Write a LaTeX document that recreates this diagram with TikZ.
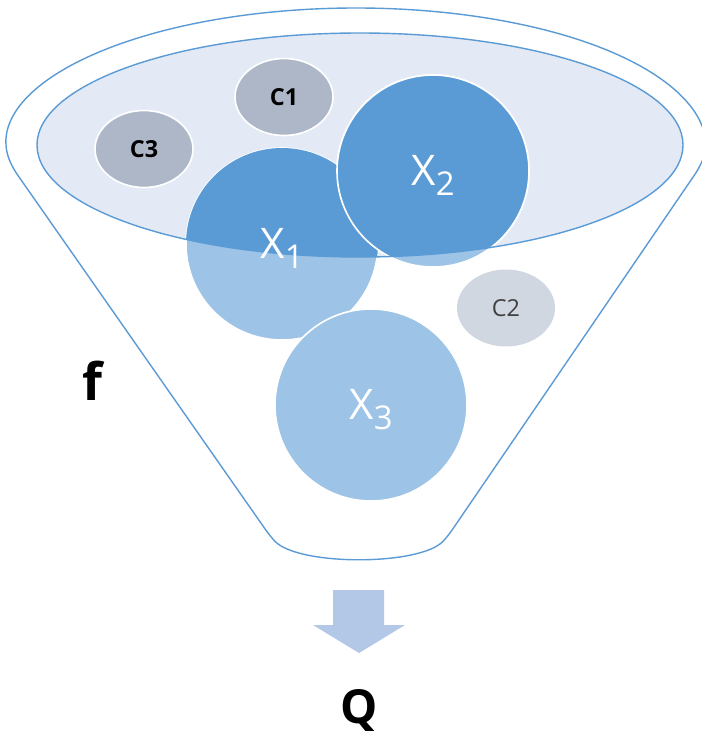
\documentclass[tikz,border=0pt]{standalone}
\usepackage{fontspec}
\setmainfont{Open Sans}
\usepackage{tikz}
\usetikzlibrary{shapes.geometric}
\definecolor{rimBlue}{HTML}{5B9BD5}
\definecolor{deepBlue}{HTML}{5B9BD5}
\definecolor{softBlue}{HTML}{9DC3E6}
\definecolor{paleBlue}{HTML}{E3EAF6}
\definecolor{slateGray}{HTML}{ADB7C8}
\definecolor{mistGray}{HTML}{D1D7E1}
\definecolor{arrowBlue}{HTML}{B2C8E6}

\begin{document}
\begin{tikzpicture}[x=0.03cm, y=-0.03cm,
    rim/.style={draw=rimBlue, line width=1.2pt},
    ball/.style={circle, inner sep=0pt, minimum size=5.76cm, fill=softBlue, draw=white, line width=1.4pt},
    pebble/.style={ellipse, inner sep=0pt, minimum width=2.94cm, minimum height=2.31cm},
    xlabel/.style={anchor=base, text=white, font=\fontsize{36}{36}\selectfont}]
    \useasboundingbox (0,0) rectangle (701,733);
    % funnel body
    \draw[rim, rounded corners=6pt] (356,145) ++(170:348 and 137)
        arc[start angle=170, end angle=370, x radius=348, y radius=137]
        -- (448,536) .. controls (420,566) and (298,566) .. (270,536) -- cycle;
    \fill[paleBlue] (360,145) ellipse [x radius=323, y radius=112];
    % small balls
    \node[pebble, fill=slateGray, draw=white, line width=1.4pt] (c1) at (284,97) {};
    \node[pebble, fill=slateGray, draw=white, line width=1.4pt] (c3) at (144,149) {};
    \node[pebble, fill=mistGray] (c2) at (506,308) {};
    % big balls
    \node[ball] (x1) at (282,244) {};
    \node[ball] (x2) at (433,171) {};
    \node[ball] (x3) at (371,405) {};
    \begin{scope}
        \clip (360,145) ellipse [x radius=323, y radius=112];
        \fill[deepBlue] (x1.center) circle (96);
        \filldraw[deepBlue, draw=white, line width=1.4pt] (x2.center) circle (96);
    \end{scope}
    \draw[rim] (360,145) ellipse [x radius=323, y radius=112];
    % labels
    \foreach \n in {1,2,3}
        \node[xlabel] (lx\n) at ([yshift=-12.5pt]x\n.center)
            {X\raisebox{-0.24em}{\fontsize{28}{28}\selectfont\n}};
    \node[font=\bfseries\fontsize{20}{20}\selectfont] (lc1) at (c1) {C1};
    \node[font=\bfseries\fontsize{20}{20}\selectfont] (lc3) at (c3) {C3};
    \node[text=black!75, font=\fontsize{20}{20}\selectfont] (lc2) at (c2) {C2};
    \node[anchor=base, font=\bfseries\fontsize{44}{44}\selectfont] (f) at (92,400) {f};
    % output arrow
    \fill[arrowBlue] (333,590) -- (384,590) -- (384,625) -- (405,625) -- (359,653)
        -- (313,625) -- (333,625) -- cycle;
    \node[anchor=base, font=\bfseries\fontsize{40}{40}\selectfont] (q) at (359,723) {Q};
\end{tikzpicture}
\end{document}
